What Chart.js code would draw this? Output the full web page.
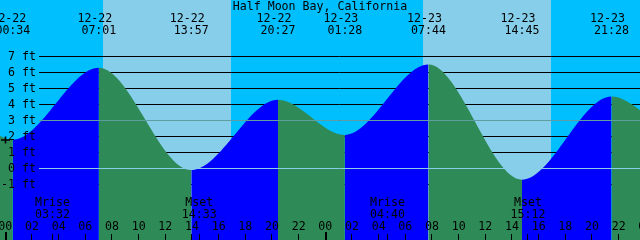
<!DOCTYPE html>
<html>
<head>
<meta charset="utf-8">
<script src="https://cdn.jsdelivr.net/npm/chart.js@4.4.1/dist/chart.umd.min.js"></script>
<style>
  html, body { margin: 0; padding: 0; background: #00bfff; }
  canvas { display: block; }
</style>
</head>
<body>
<canvas id="tideCanvas" width="640" height="240"></canvas>
<script>
// tide graph - Half Moon Bay, two days

const title = 'Half Moon Bay, California';

// tide highs / lows (first two and last two sit just outside the window)
const tideDates = ['12-21', '12-21', '12-22', '12-22', '12-22', '12-22', '12-23', '12-23', '12-23', '12-23', '12-24', '12-24'];
const tideClock = ['13:10', '19:45', '00:34', '07:01', '13:57', '20:27', '01:28', '07:44', '14:45', '21:28', '02:20', '08:40'];
const tideFeet  = [-0.3, 4.2, 1.8, 6.3, -0.1, 4.3, 2.1, 6.5, -0.7, 4.5, 2.4, 6.4];

// daylight
const sunriseDates = ['12-22', '12-23'];
const sunriseClock = ['07:20', '07:20'];
const sunsetDates  = ['12-22', '12-23'];
const sunsetClock  = ['16:56', '16:56'];

// moon events
const moonNames = ['Mrise', 'Mset', 'Mrise', 'Mset'];
const moonDates = ['12-22', '12-22', '12-23', '12-23'];
const moonClock = ['03:32', '14:33', '04:40', '15:12'];

const feetTicks = [7, 6, 5, 4, 3, 2, 1, 0, -1];
const hourTicks = ['00', '02', '04', '06', '08', '10', '12', '14', '16', '18', '20', '22',
                   '00', '02', '04', '06', '08', '10', '12', '14', '16', '18', '20', '22', '00'];
const meanLevel = 3;
const datumLevel = 0;
const markHour = 0;
const markFeet = 1.8;

const NIGHT = '#00bfff';
const DAY = '#87ceeb';
const RISE = '#0000ff';
const FALL = '#2e8b57';
const FONT = '11.6px "DejaVu Sans Mono", "Liberation Mono", monospace';

function toHours(date, clock) {
    const day = parseInt(date.split('-')[1], 10) - 22;
    const parts = clock.split(':').map(Number);
    return day * 24 + parts[0] + parts[1] / 60;
}

const tidePoints = tideFeet.map((f, i) => ({ x: toHours(tideDates[i], tideClock[i]), y: f }));

const backdrop = {
    id: 'backdrop',
    beforeDraw(chart) {
        const { ctx, scales: { x, y } } = chart;
        ctx.save();
        ctx.fillStyle = NIGHT;
        ctx.fillRect(0, 0, chart.width, chart.height);
        ctx.fillStyle = DAY;
        sunriseDates.forEach((d, i) => {
            const x0 = Math.round(x.getPixelForValue(toHours(d, sunriseClock[i])));
            const x1 = Math.round(x.getPixelForValue(toHours(sunsetDates[i], sunsetClock[i])));
            ctx.fillRect(x0, 0, x1 - x0, chart.height);
        });
        // level lines, hidden under the water
        ctx.strokeStyle = '#000';
        ctx.lineWidth = 1;
        feetTicks.forEach(f => {
            const py = Math.floor(y.getPixelForValue(f)) + 0.5;
            ctx.beginPath();
            ctx.moveTo(39, py);
            ctx.lineTo(chart.width, py);
            ctx.stroke();
        });
        ctx.restore();
    }
};

const overlay = {
    id: 'overlay',
    afterDraw(chart) {
        const { ctx, scales: { x, y } } = chart;
        const W = chart.width, H = chart.height;
        ctx.save();

        // mean and datum lines on top of the water
        [[meanLevel, '#5f9ea0'], [datumLevel, '#87ceeb']].forEach(([lvl, col]) => {
            const py = Math.floor(y.getPixelForValue(lvl)) + 0.5;
            ctx.strokeStyle = col;
            ctx.lineWidth = 1;
            ctx.beginPath();
            ctx.moveTo(39, py);
            ctx.lineTo(W, py);
            ctx.stroke();
        });

        ctx.fillStyle = '#000';
        ctx.font = FONT;
        ctx.textBaseline = 'alphabetic';

        // feet labels
        ctx.textAlign = 'right';
        feetTicks.forEach(f => {
            const py = Math.floor(y.getPixelForValue(f));
            ctx.fillText(f + ' ft', 36, py + 4);
        });

        // marker
        const mx = Math.round(x.getPixelForValue(markHour)) + 0.5;
        const my = Math.round(y.getPixelForValue(markFeet));
        ctx.strokeStyle = '#000';
        ctx.lineWidth = 1.6;
        ctx.beginPath();
        ctx.moveTo(mx - 4.5, my); ctx.lineTo(mx + 4.5, my);
        ctx.moveTo(mx, my - 3.5); ctx.lineTo(mx, my + 3.5);
        ctx.stroke();

        // title
        ctx.textAlign = 'center';
        ctx.fillText(title, W / 2, 10);

        // high / low times
        tideDates.forEach((d, i) => {
            const px = x.getPixelForValue(toHours(d, tideClock[i]));
            ctx.fillText(d, px - 4, 21.5);
            ctx.fillText(tideClock[i], px, 34);
        });

        // moon events
        ctx.lineWidth = 1;
        moonNames.forEach((m, i) => {
            const px = x.getPixelForValue(toHours(moonDates[i], moonClock[i]));
            ctx.fillText(m, px, 206);
            ctx.fillText(moonClock[i], px, 218);
            const tx = Math.floor(px) + 0.5;
            ctx.beginPath();
            ctx.moveTo(tx, 234); ctx.lineTo(tx, H);
            ctx.stroke();
        });

        // hour axis
        hourTicks.forEach((lab, i) => {
            const px = x.getPixelForValue(i * 2);
            ctx.fillText(lab, px, 229.5);
            if (lab === '00') {
                ctx.fillRect(Math.floor(px), 232, 2, H - 232);
            } else {
                const tx = Math.floor(px) + 0.5;
                ctx.beginPath();
                ctx.moveTo(tx, 234); ctx.lineTo(tx, H);
                ctx.stroke();
            }
        });

        ctx.restore();
    }
};

new Chart(document.getElementById('tideCanvas'), {
    type: 'line',
    data: {
        datasets: [{
            data: tidePoints,
            fill: 'start',
            borderWidth: 0,
            borderColor: 'rgba(0,0,0,0)',
            pointRadius: 0,
            cubicInterpolationMode: 'monotone',
            capBezierPoints: false,
            segment: {
                backgroundColor: ctx => ctx.p1.parsed.y > ctx.p0.parsed.y ? RISE : FALL
            }
        }]
    },
    options: {
        responsive: false,
        animation: false,
        layout: { padding: 0 },
        elements: { line: { capBezierPoints: false } },
        scales: {
            x: { type: 'linear', display: false, min: -0.3975, max: 47.6 },
            y: { display: false, min: -4.47, max: 10.53 }
        },
        plugins: {
            legend: { display: false },
            tooltip: { enabled: false }
        }
    },
    plugins: [backdrop, overlay]
});
</script>
</body>
</html>
